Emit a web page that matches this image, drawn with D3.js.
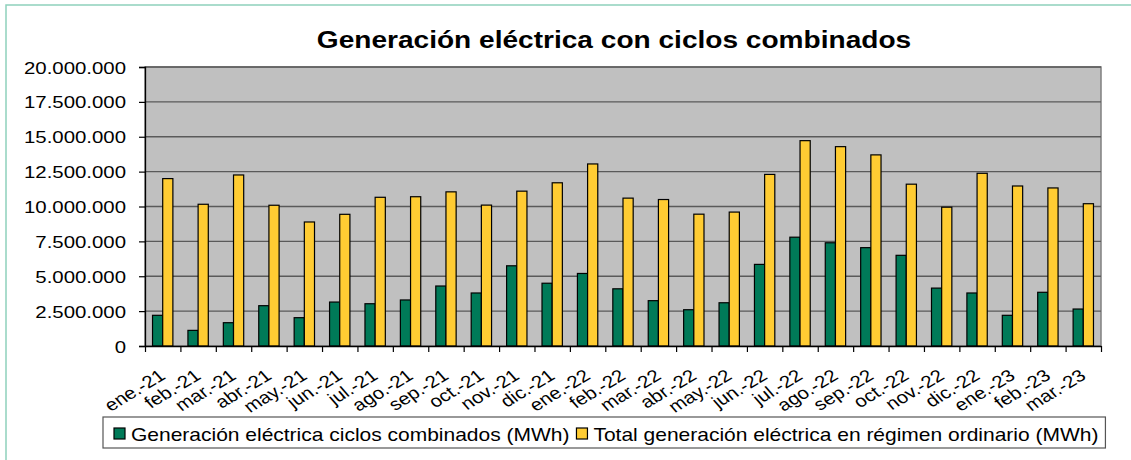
<!DOCTYPE html>
<html>
<head>
<meta charset="utf-8">
<script src="https://cdn.jsdelivr.net/npm/d3@7"></script>
<style>
  body { margin: 0; background: #fff; }
  svg { display: block; font-family: 'Liberation Sans', Arial, sans-serif; }
</style>
</head>
<body>
<svg id="chart" width="1131" height="460"></svg>
<script>
// months (categories)
const months = ['ene.-21', 'feb.-21', 'mar.-21', 'abr.-21', 'may.-21', 'jun.-21', 'jul.-21', 'ago.-21', 'sep.-21',
  'oct.-21', 'nov.-21', 'dic.-21', 'ene.-22', 'feb.-22', 'mar.-22', 'abr.-22', 'may.-22', 'jun.-22', 'jul.-22',
  'ago.-22', 'sep.-22', 'oct.-22', 'nov.-22', 'dic.-22', 'ene.-23', 'feb.-23', 'mar.-23'];

// Generación eléctrica ciclos combinados (MWh)
const ciclosCombinados = [2200000, 1120000, 1670000, 2890000, 2030000, 3150000, 3030000, 3300000, 4300000,
  3800000, 5750000, 4500000, 5200000, 4100000, 3250000, 2600000, 3100000, 5850000, 7800000,
  7400000, 7050000, 6500000, 4150000, 3800000, 2200000, 3850000, 2650000];

// Total generación eléctrica en régimen ordinario (MWh)
const totalOrdinario = [12000000, 10160000, 12260000, 10090000, 8890000, 9440000, 10660000, 10700000, 11050000,
  10100000, 11100000, 11700000, 13050000, 10600000, 10500000, 9450000, 9600000, 12300000, 14720000,
  14290000, 13700000, 11600000, 9950000, 12380000, 11470000, 11330000, 10200000];

const yTicks = [0, 2500000, 5000000, 7500000, 10000000, 12500000, 15000000, 17500000, 20000000];
const seriesNames = ['Generación eléctrica ciclos combinados (MWh)', 'Total generación eléctrica en régimen ordinario (MWh)'];
const seriesColors = ['#007a58', '#ffcc33'];
const title = 'Generación eléctrica con ciclos combinados';

const SX = 1.2; // the original picture is stretched horizontally

const svg = d3.select('#chart');
const plot = { left: 145, right: 1101, top: 67, bottom: 346 };

// outer chart border (only top/left visible)
svg.append('rect')
  .attr('x', 6).attr('y', 5)
  .attr('width', 1200).attr('height', 600)
  .attr('fill', 'none')
  .attr('stroke', '#8fd1bc')
  .attr('stroke-width', 1.5);

// title
svg.append('text')
  .attr('transform', 'translate(614,48) scale(1.17,1)')
  .attr('text-anchor', 'middle')
  .style('font-size', '24px')
  .style('font-weight', 'bold')
  .text(title);

const x0 = d3.scaleBand()
  .domain(months)
  .range([plot.left, plot.right])
  .paddingInner(0.425)
  .paddingOuter(0.2125);

const x1 = d3.scaleBand()
  .domain([0, 1])
  .range([0, x0.bandwidth()]);

const y = d3.scaleLinear()
  .domain([0, 20000000])
  .range([plot.bottom, plot.top]);

// plot area background
svg.append('rect')
  .attr('x', plot.left).attr('y', plot.top)
  .attr('width', plot.right - plot.left)
  .attr('height', plot.bottom - plot.top)
  .attr('fill', '#c0c0c0')
  .attr('stroke', '#808080')
  .attr('stroke-width', 1.5);

// gridlines
svg.append('g')
  .selectAll('line')
  .data(yTicks.slice(1))
  .enter()
  .append('line')
  .attr('x1', plot.left).attr('x2', plot.right)
  .attr('y1', d => y(d)).attr('y2', d => y(d))
  .attr('stroke', '#5a5a5a')
  .attr('stroke-width', 1.3);

// bars
const data = months.map((m, i) => ({ month: m, values: [ciclosCombinados[i], totalOrdinario[i]] }));

const groups = svg.append('g')
  .selectAll('g')
  .data(data)
  .enter()
  .append('g')
  .attr('transform', d => 'translate(' + x0(d.month) + ',0)');

groups.selectAll('rect')
  .data(d => d.values.map((v, k) => ({ k: k, v: v })))
  .enter()
  .append('rect')
  .attr('x', d => x1(d.k))
  .attr('width', x1.bandwidth())
  .attr('y', d => y(d.v))
  .attr('height', d => y(0) - y(d.v))
  .attr('fill', d => seriesColors[d.k])
  .attr('stroke', '#000')
  .attr('stroke-width', 1.2);

// y axis
const locale = d3.formatLocale({ decimal: ',', thousands: '.', grouping: [3], currency: ['', ''] });
const fmt = locale.format(',.0f');

const yAxis = svg.append('g')
  .attr('transform', 'translate(' + plot.left + ',0)')
  .call(d3.axisLeft(y).tickValues(yTicks).tickFormat(fmt).tickSize(6).tickPadding(0));

yAxis.select('.domain').attr('stroke', '#000').attr('stroke-width', 1.3);
yAxis.selectAll('.tick line').attr('stroke', '#000').attr('stroke-width', 1.2);
yAxis.selectAll('.tick text')
  .attr('x', null)
  .attr('dy', null)
  .attr('fill', '#000')
  .style('font-size', '17px')
  .attr('transform', 'translate(-19,6) scale(' + SX + ',1)');

// x axis: ticks on category boundaries
const xb = d3.scaleLinear().domain([0, months.length]).range([plot.left, plot.right]);
const xAxis = svg.append('g')
  .attr('transform', 'translate(0,' + plot.bottom + ')')
  .call(d3.axisBottom(xb).tickValues(d3.range(months.length + 1)).tickFormat('').tickSize(6).tickSizeOuter(0));
xAxis.select('.domain').attr('stroke', '#000').attr('stroke-width', 1.3);
xAxis.selectAll('.tick line').attr('stroke', '#000').attr('stroke-width', 1.2);

// x labels
svg.append('g')
  .selectAll('text')
  .data(months)
  .enter()
  .append('text')
  .attr('text-anchor', 'end')
  .style('font-size', '17px')
  .attr('transform', d => 'translate(' + (x0(d) + x0.bandwidth() / 2 + 4) + ',378) scale(' + SX + ',1) rotate(-36)')
  .text(d => d);

// legend
const legend = svg.append('g');
const legendBox = legend.append('rect')
  .attr('y', 417).attr('height', 31)
  .attr('fill', '#fff')
  .attr('stroke', '#555')
  .attr('stroke-width', 1.2);

let lx = 114;
seriesNames.forEach((name, i) => {
  legend.append('rect')
    .attr('x', lx).attr('y', 428)
    .attr('width', 11).attr('height', 11)
    .attr('fill', seriesColors[i])
    .attr('stroke', '#000')
    .attr('stroke-width', 1.2);
  const t = legend.append('text')
    .attr('transform', 'translate(' + (lx + 17) + ',441) scale(' + SX + ',1)')
    .style('font-size', '17.5px')
    .text(name);
  lx = lx + 17 + t.node().getComputedTextLength() * SX + 7;
});
legendBox.attr('x', 103).attr('width', lx - 103);
</script>
</body>
</html>
